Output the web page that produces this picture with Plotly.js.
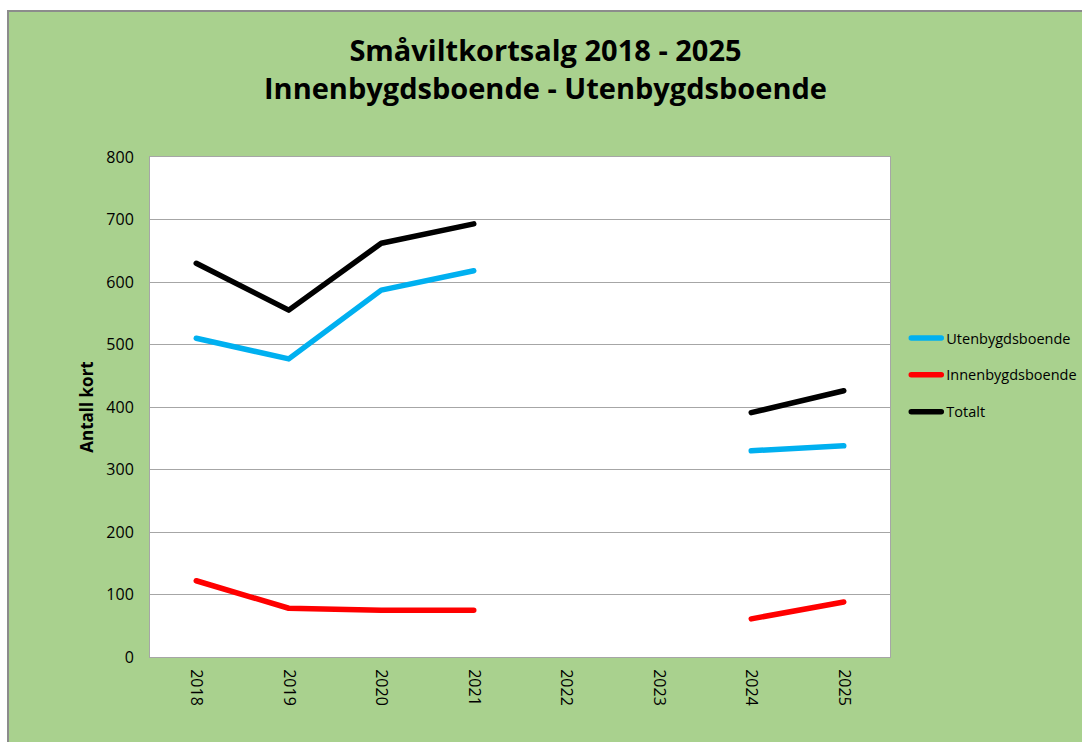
<!DOCTYPE html>
<html>
<head>
<meta charset="utf-8">
<script src="https://cdn.plot.ly/plotly-3.0.1.min.js"></script>
<style>
  html, body { margin: 0; padding: 0; background: #ffffff; }
  #chart { position: absolute; left: 7px; top: 10px; width: 1075px; height: 732px;
           border-left: 2px solid #8c8c8c; border-top: 2px solid #8c8c8c; box-sizing: border-box; }
  .scatterlayer path.js-line, .legendlines path { stroke-linecap: round; stroke-linejoin: round; }
</style>
</head>
<body>
<div id="chart"></div>
<script>
const years = ["2018", "2019", "2020", "2021", "2022", "2023", "2024", "2025"];
const utenbygds = [510, 477, 587, 618, null, null, 330, 338];
const innenbygds = [122, 78, 75, 75, null, null, 61, 88];
const totalt = [630, 555, 662, 693, null, null, 391, 426];
const yTicks = [0, 100, 200, 300, 400, 500, 600, 700, 800];

const font = "Open Sans, Liberation Sans, sans-serif";

const traces = [
  { name: "Utenbygdsboende", x: years, y: utenbygds, color: "#00B0F0" },
  { name: "Innenbygdsboende", x: years, y: innenbygds, color: "#FF0000" },
  { name: "Totalt", x: years, y: totalt, color: "#000000" }
].map((t, i) => ({
  type: "scatter", mode: "lines", name: t.name, x: t.x, y: t.y,
  connectgaps: false, legendgroup: "g" + i,
  line: { color: t.color, width: 5.5 }, hoverinfo: "x+y+name"
}));

const layout = {
  width: 1073, height: 730,
  paper_bgcolor: "#A9D18E", plot_bgcolor: "#ffffff",
  margin: { l: 141, t: 145, r: 192, b: 85, autoexpand: false },
  title: {
    text: "<b>Småviltkortsalg 2018 - 2025<br>Innenbygdsboende - Utenbygdsboende</b>",
    font: { family: font, size: 29, color: "#000000" },
    x: 0.5, xanchor: "center", y: 0.933, yanchor: "top"
  },
  xaxis: {
    type: "category", categoryorder: "array", categoryarray: years,
    range: [-0.5, 7.5], tickangle: 90,
    tickfont: { family: font, size: 16, color: "#000000" },
    showgrid: false, showline: true, linecolor: "#a6a6a6", linewidth: 1, mirror: true,
    ticks: "", zeroline: false, ticklabelstandoff: 8
  },
  yaxis: {
    range: [0, 800], tickvals: yTicks, ticktext: yTicks.map(String),
    tickfont: { family: font, size: 16, color: "#000000" },
    showgrid: true, gridcolor: "#a6a6a6", gridwidth: 1,
    showline: true, linecolor: "#a6a6a6", linewidth: 1, mirror: true,
    ticks: "", zeroline: false, ticklabelstandoff: 12,
    title: { text: "<b>Antall kort</b>", font: { family: font, size: 17, color: "#000000" }, standoff: 8 }
  },
  showlegend: true,
  legend: {
    x: 1.022, xanchor: "left", y: 0.67, yanchor: "top",
    bgcolor: "rgba(0,0,0,0)", font: { family: font, size: 14.5, color: "#000000" },
    traceorder: "grouped", tracegroupgap: 15, itemwidth: 30
  }
};

Plotly.newPlot("chart", traces, layout, { displayModeBar: false, responsive: false });
</script>
</body>
</html>
